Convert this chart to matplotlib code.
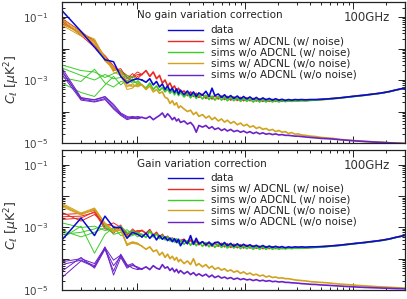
import matplotlib
matplotlib.use("Agg")
import matplotlib.pyplot as plt
from matplotlib.ticker import LogLocator, NullFormatter, FixedLocator, FixedFormatter

plt.rcParams['font.family'] = ['DejaVu Sans']
plt.rcParams['mathtext.fontset'] = 'dejavusans'

# ---------------- data ----------------
ell_low = [2, 3, 4, 5, 6, 7, 8, 9, 10]
ell_high = [11, 12, 13, 14, 15, 16, 17, 18, 19, 20, 21, 22, 23, 24, 25,
            27, 29, 31, 33, 35, 37, 40, 43, 46, 49, 52, 56, 60, 64, 68,
            73, 78, 84, 90, 96, 103, 110, 118, 126, 135, 145, 155, 166, 178, 190,
            204, 218, 234, 250, 268, 287, 307, 330, 360, 400, 450, 500, 570, 650, 740,
            850, 970, 1100, 1260, 1440, 1650, 1880, 2150, 2450, 2800, 3000]

series_labels = ["data", "sims w/ ADCNL (w/ noise)", "sims w/o ADCNL (w/ noise)",
                 "sims w/ ADCNL (w/o noise)", "sims w/o ADCNL (w/o noise)"]
panel_titles = ["No gain variation correction", "Gain variation correction"]
freq_label = "100GHz"

# ---- top panel (no gain variation correction) ----
top_blue_low = [1.6e-1, 3.5e-2, 1.1e-2, 4.4e-3, 3.8e-3, 1.3e-3, 8.0e-4, 1.0e-3, 1.1e-3]
top_red_low = [
    [9.0e-2, 3.5e-2, 1.6e-2, 5.5e-3, 2.4e-3, 2.0e-3, 1.4e-3, 1.2e-3, 1.5e-3],
    [7.0e-2, 3.0e-2, 1.3e-2, 4.8e-3, 2.0e-3, 2.3e-3, 1.1e-3, 1.6e-3, 1.1e-3],
    [8.0e-2, 2.6e-2, 1.1e-2, 6.0e-3, 2.8e-3, 1.7e-3, 9.0e-4, 1.3e-3, 1.8e-3],
    [6.0e-2, 3.2e-2, 1.8e-2, 4.2e-3, 2.2e-3, 1.9e-3, 1.2e-3, 9.0e-4, 1.3e-3]]
top_green_low = [
    [3.0e-3, 2.0e-3, 1.8e-3, 1.2e-3, 1.6e-3, 2.0e-3, 1.1e-3, 1.3e-3, 1.0e-3],
    [2.4e-3, 1.4e-3, 1.0e-3, 1.5e-3, 1.1e-3, 1.2e-3, 1.4e-3, 9.0e-4, 8.0e-4],
    [1.2e-3, 9.0e-4, 2.2e-3, 8.0e-4, 6.0e-4, 9.0e-4, 8.0e-4, 1.1e-3, 7.0e-4],
    [8.0e-4, 4.0e-4, 3.0e-4, 7.0e-4, 1.3e-3, 7.0e-4, 1.0e-3, 8.0e-4, 9.0e-4]]
top_gold_low = [
    [7.5e-2, 3.0e-2, 2.0e-2, 5.0e-3, 2.5e-3, 1.5e-3, 7.0e-4, 6.0e-4, 7.0e-4],
    [6.5e-2, 2.8e-2, 1.6e-2, 4.5e-3, 2.1e-3, 1.8e-3, 6.0e-4, 7.5e-4, 6.0e-4],
    [8.5e-2, 3.3e-2, 1.4e-2, 5.5e-3, 1.8e-3, 1.4e-3, 5.0e-4, 5.5e-4, 8.0e-4],
    [5.5e-2, 2.5e-2, 1.8e-2, 4.0e-3, 2.3e-3, 1.6e-3, 8.0e-4, 6.5e-4, 6.5e-4]]
top_purple_low = [
    [2.4e-3, 2.8e-4, 2.3e-4, 2.9e-4, 1.5e-4, 8.5e-5, 6.5e-5, 7.0e-5, 6.5e-5],
    [2.0e-3, 2.5e-4, 2.1e-4, 2.6e-4, 1.3e-4, 8.0e-5, 6.0e-5, 6.5e-5, 6.0e-5],
    [1.8e-3, 2.6e-4, 2.4e-4, 3.0e-4, 1.7e-4, 9.0e-5, 7.0e-5, 6.0e-5, 7.0e-5],
    [1.5e-3, 2.3e-4, 2.0e-4, 2.4e-4, 1.2e-4, 7.5e-5, 5.5e-5, 6.2e-5, 5.8e-5]]

top_blue_high = [1.0e-3, 8.5e-4, 1.1e-3, 7.0e-4, 9.0e-4, 6.0e-4, 7.5e-4, 5.0e-4, 6.5e-4, 4.5e-4,
                 5.5e-4, 4.0e-4, 5.2e-4, 3.6e-4, 4.8e-4,
                 3.4e-4, 4.5e-4, 3.2e-4, 4.2e-4, 3.0e-4, 3.9e-4,
                 3.3e-4, 4.4e-4, 3.0e-4, 5.5e-4, 3.2e-4,
                 3.6e-4, 2.8e-4, 3.4e-4, 2.7e-4,
                 3.2e-4, 2.6e-4, 3.1e-4, 2.5e-4, 3.0e-4,
                 2.5e-4, 2.9e-4, 2.4e-4, 2.8e-4, 2.35e-4,
                 2.7e-4, 2.35e-4, 2.6e-4, 2.3e-4, 2.55e-4,
                 2.3e-4, 2.45e-4, 2.25e-4, 2.4e-4, 2.3e-4,
                 2.4e-4, 2.35e-4, 2.4e-4, 2.35e-4, 2.4e-4,
                 2.4e-4, 2.45e-4, 2.5e-4, 2.6e-4, 2.7e-4,
                 2.85e-4, 3.0e-4, 3.15e-4, 3.3e-4, 3.5e-4,
                 3.7e-4, 3.95e-4, 4.3e-4, 4.8e-4, 5.3e-4, 5.6e-4]
top_red_high = [1.5e-3, 2.0e-3, 1.3e-3, 1.8e-3, 1.1e-3, 1.4e-3, 8.0e-4, 1.0e-3, 6.5e-4, 8.0e-4,
                5.5e-4, 6.5e-4, 4.5e-4, 5.5e-4, 4.0e-4,
                4.5e-4, 3.2e-4, 4.2e-4, 3.0e-4, 3.8e-4, 2.8e-4,
                3.5e-4, 2.6e-4, 3.3e-4, 2.5e-4, 3.2e-4,
                2.5e-4, 3.1e-4, 2.4e-4, 3.0e-4,
                2.3e-4, 2.9e-4, 2.25e-4, 2.8e-4, 2.2e-4,
                2.7e-4, 2.2e-4, 2.6e-4, 2.15e-4, 2.5e-4,
                2.1e-4, 2.45e-4, 2.1e-4, 2.4e-4, 2.1e-4,
                2.3e-4, 2.1e-4, 2.25e-4, 2.15e-4, 2.2e-4,
                2.2e-4, 2.2e-4, 2.25e-4, 2.2e-4, 2.3e-4,
                2.35e-4, 2.4e-4, 2.5e-4, 2.6e-4, 2.7e-4,
                2.85e-4, 3.0e-4, 3.15e-4, 3.3e-4, 3.5e-4,
                3.7e-4, 3.95e-4, 4.3e-4, 4.8e-4, 5.3e-4, 5.6e-4]
top_green_high = [7.0e-4, 5.5e-4, 8.0e-4, 5.0e-4, 6.5e-4, 4.6e-4, 5.8e-4, 4.2e-4, 5.2e-4, 3.8e-4,
                  4.6e-4, 3.4e-4, 4.4e-4, 3.2e-4, 4.0e-4,
                  2.9e-4, 3.8e-4, 2.7e-4, 3.6e-4, 2.6e-4, 3.4e-4,
                  2.5e-4, 3.3e-4, 2.4e-4, 3.1e-4, 2.3e-4,
                  3.0e-4, 2.3e-4, 2.9e-4, 2.2e-4,
                  2.8e-4, 2.2e-4, 2.7e-4, 2.1e-4, 2.6e-4,
                  2.1e-4, 2.5e-4, 2.0e-4, 2.45e-4, 2.0e-4,
                  2.4e-4, 2.0e-4, 2.35e-4, 2.0e-4, 2.3e-4,
                  2.0e-4, 2.25e-4, 2.05e-4, 2.2e-4, 2.1e-4,
                  2.2e-4, 2.15e-4, 2.2e-4, 2.2e-4, 2.25e-4,
                  2.3e-4, 2.35e-4, 2.45e-4, 2.55e-4, 2.65e-4,
                  2.8e-4, 2.95e-4, 3.1e-4, 3.25e-4, 3.45e-4,
                  3.65e-4, 3.9e-4, 4.25e-4, 4.75e-4, 5.25e-4, 5.55e-4]
top_gold_high = [7.0e-4, 5.0e-4, 6.5e-4, 4.2e-4, 5.0e-4, 3.8e-4, 4.2e-4, 2.8e-4, 2.6e-4, 1.8e-4,
                 2.2e-4, 1.6e-4, 1.9e-4, 1.3e-4, 1.5e-4,
                 1.2e-4, 1.0e-4, 1.1e-4, 8.0e-5, 9.5e-5, 7.0e-5,
                 8.0e-5, 6.2e-5, 7.2e-5, 5.5e-5, 6.5e-5,
                 5.0e-5, 5.8e-5, 4.6e-5, 5.3e-5,
                 4.2e-5, 4.8e-5, 3.8e-5, 4.3e-5, 3.5e-5,
                 3.9e-5, 3.2e-5, 3.5e-5, 2.9e-5, 3.2e-5,
                 2.7e-5, 2.9e-5, 2.5e-5, 2.7e-5, 2.3e-5,
                 2.5e-5, 2.2e-5, 2.3e-5, 2.0e-5, 2.15e-5,
                 1.9e-5, 1.95e-5, 1.8e-5, 1.75e-5, 1.65e-5,
                 1.6e-5, 1.5e-5, 1.45e-5, 1.4e-5, 1.3e-5,
                 1.25e-5, 1.2e-5, 1.17e-5, 1.13e-5, 1.1e-5,
                 1.07e-5, 1.05e-5, 1.02e-5, 1.0e-5, 0.98e-5, 0.97e-5]
top_purple_high = [6.5e-5, 6.0e-5, 7.0e-5, 5.5e-5, 6.5e-5, 7.5e-5, 9.0e-5, 6.5e-5, 8.5e-5, 7.0e-5,
                   5.5e-5, 6.5e-5, 5.0e-5, 5.8e-5, 4.5e-5,
                   5.0e-5, 4.0e-5, 4.5e-5, 3.5e-5, 2.2e-5, 3.6e-5,
                   3.2e-5, 3.6e-5, 2.9e-5, 3.3e-5, 2.7e-5,
                   3.0e-5, 2.5e-5, 2.8e-5, 2.4e-5,
                   2.7e-5, 2.3e-5, 2.5e-5, 2.2e-5, 2.4e-5,
                   2.1e-5, 2.3e-5, 2.0e-5, 2.2e-5, 1.95e-5,
                   2.1e-5, 1.9e-5, 2.0e-5, 1.85e-5, 1.95e-5,
                   1.8e-5, 1.85e-5, 1.75e-5, 1.75e-5, 1.7e-5,
                   1.65e-5, 1.65e-5, 1.6e-5, 1.55e-5, 1.5e-5,
                   1.45e-5, 1.4e-5, 1.37e-5, 1.33e-5, 1.28e-5,
                   1.23e-5, 1.19e-5, 1.15e-5, 1.12e-5, 1.09e-5,
                   1.06e-5, 1.04e-5, 1.01e-5, 0.99e-5, 0.97e-5, 0.96e-5]

# ---- bottom panel (gain variation correction) ----
bot_blue_low = [4.0e-4, 2.0e-3, 5.5e-4, 2.3e-3, 1.0e-3, 1.0e-3, 4.5e-4, 7.0e-4, 6.0e-4]
bot_red_low = [
    [2.6e-3, 2.8e-3, 3.5e-3, 1.1e-3, 1.4e-3, 1.0e-3, 6.0e-4, 8.0e-4, 7.0e-4],
    [2.2e-3, 2.3e-3, 3.0e-3, 9.0e-4, 8.0e-4, 1.2e-3, 5.0e-4, 7.0e-4, 8.0e-4],
    [3.0e-3, 1.6e-3, 2.6e-3, 1.3e-3, 1.1e-3, 8.5e-4, 5.5e-4, 9.0e-4, 6.5e-4],
    [1.8e-3, 2.0e-3, 3.2e-3, 1.0e-3, 6.5e-4, 1.1e-3, 6.5e-4, 6.0e-4, 7.5e-4]]
bot_green_low = [
    [1.4e-3, 1.0e-3, 1.1e-3, 8.0e-4, 9.0e-4, 1.1e-3, 7.0e-4, 8.0e-4, 6.0e-4],
    [6.0e-4, 7.0e-4, 9.0e-4, 1.2e-3, 6.0e-4, 7.0e-4, 8.5e-4, 6.0e-4, 7.0e-4],
    [4.5e-4, 1.1e-3, 1.5e-4, 6.0e-4, 1.0e-3, 5.5e-4, 6.5e-4, 7.0e-4, 5.0e-4],
    [8.0e-4, 5.0e-4, 7.0e-4, 1.0e-3, 7.5e-4, 9.0e-4, 5.0e-4, 5.5e-4, 6.5e-4]]
bot_gold_low = [
    [5.9e-3, 2.9e-3, 4.2e-3, 1.4e-3, 8.0e-4, 8.5e-4, 3.0e-4, 3.5e-4, 3.2e-4],
    [5.4e-3, 2.7e-3, 3.9e-3, 1.3e-3, 7.5e-4, 8.0e-4, 2.7e-4, 3.3e-4, 3.0e-4],
    [5.0e-3, 2.6e-3, 3.7e-3, 1.25e-3, 7.8e-4, 9.0e-4, 2.8e-4, 3.1e-4, 2.9e-4],
    [4.6e-3, 2.5e-3, 4.0e-3, 1.35e-3, 7.2e-4, 8.2e-4, 2.6e-4, 3.4e-4, 3.1e-4]]
bot_purple_low = [
    [8.0e-5, 1.0e-4, 7.0e-5, 2.3e-4, 9.0e-5, 1.3e-4, 6.0e-5, 7.0e-5, 5.0e-5],
    [6.5e-5, 9.0e-5, 6.0e-5, 2.1e-4, 6.0e-5, 1.2e-4, 5.5e-5, 6.0e-5, 5.5e-5],
    [4.0e-5, 1.1e-4, 5.0e-5, 2.0e-4, 4.0e-5, 1.4e-4, 6.5e-5, 5.0e-5, 4.5e-5],
    [2.5e-5, 8.5e-5, 5.5e-5, 2.4e-4, 3.0e-5, 1.1e-4, 5.0e-5, 6.5e-5, 5.0e-5]]

bot_blue_high = [5.0e-4, 6.5e-4, 4.5e-4, 6.0e-4, 4.0e-4, 5.5e-4, 4.2e-4, 5.0e-4, 3.8e-4, 4.6e-4,
                 3.5e-4, 4.4e-4, 3.3e-4, 4.2e-4, 2.6e-4,
                 4.0e-4, 3.0e-4, 5.5e-4, 2.9e-4, 4.5e-4, 3.0e-4,
                 3.5e-4, 2.8e-4, 3.4e-4, 2.7e-4, 3.3e-4,
                 3.4e-4, 2.7e-4, 3.3e-4, 2.6e-4,
                 3.1e-4, 2.5e-4, 3.0e-4, 2.5e-4, 2.9e-4,
                 2.5e-4, 2.8e-4, 2.4e-4, 2.7e-4, 2.35e-4,
                 2.65e-4, 2.3e-4, 2.55e-4, 2.3e-4, 2.5e-4,
                 2.3e-4, 2.45e-4, 2.25e-4, 2.4e-4, 2.3e-4,
                 2.4e-4, 2.35e-4, 2.4e-4, 2.35e-4, 2.4e-4,
                 2.4e-4, 2.45e-4, 2.5e-4, 2.6e-4, 2.7e-4,
                 2.85e-4, 3.0e-4, 3.15e-4, 3.3e-4, 3.5e-4,
                 3.7e-4, 3.95e-4, 4.3e-4, 4.8e-4, 5.3e-4, 5.6e-4]
bot_red_high = [8.0e-4, 6.5e-4, 8.5e-4, 5.5e-4, 7.0e-4, 5.0e-4, 6.0e-4, 4.5e-4, 5.2e-4, 4.0e-4,
                4.6e-4, 3.6e-4, 4.2e-4, 3.3e-4, 3.8e-4,
                4.2e-4, 3.1e-4, 4.0e-4, 2.9e-4, 3.7e-4, 2.8e-4,
                3.5e-4, 2.6e-4, 3.3e-4, 2.5e-4, 3.2e-4,
                2.5e-4, 3.1e-4, 2.4e-4, 3.0e-4,
                2.3e-4, 2.9e-4, 2.25e-4, 2.8e-4, 2.2e-4,
                2.7e-4, 2.2e-4, 2.6e-4, 2.15e-4, 2.5e-4,
                2.1e-4, 2.45e-4, 2.1e-4, 2.4e-4, 2.1e-4,
                2.3e-4, 2.1e-4, 2.25e-4, 2.15e-4, 2.2e-4,
                2.2e-4, 2.2e-4, 2.25e-4, 2.2e-4, 2.3e-4,
                2.35e-4, 2.4e-4, 2.5e-4, 2.6e-4, 2.7e-4,
                2.85e-4, 3.0e-4, 3.15e-4, 3.3e-4, 3.5e-4,
                3.7e-4, 3.95e-4, 4.3e-4, 4.8e-4, 5.3e-4, 5.6e-4]
bot_green_high = [6.0e-4, 4.8e-4, 7.7e-4, 5.0e-4, 6.2e-4, 4.4e-4, 5.6e-4, 4.0e-4, 5.0e-4, 3.7e-4,
                  4.5e-4, 3.4e-4, 4.3e-4, 3.1e-4, 3.9e-4,
                  2.9e-4, 3.8e-4, 2.7e-4, 3.6e-4, 2.6e-4, 3.4e-4,
                  2.5e-4, 3.3e-4, 2.4e-4, 3.1e-4, 2.3e-4,
                  3.0e-4, 2.3e-4, 2.9e-4, 2.2e-4,
                  2.8e-4, 2.2e-4, 2.7e-4, 2.1e-4, 2.6e-4,
                  2.1e-4, 2.5e-4, 2.0e-4, 2.45e-4, 2.0e-4,
                  2.4e-4, 2.0e-4, 2.35e-4, 2.0e-4, 2.3e-4,
                  2.0e-4, 2.25e-4, 2.05e-4, 2.2e-4, 2.1e-4,
                  2.2e-4, 2.15e-4, 2.2e-4, 2.2e-4, 2.25e-4,
                  2.3e-4, 2.35e-4, 2.45e-4, 2.55e-4, 2.65e-4,
                  2.8e-4, 2.95e-4, 3.1e-4, 3.25e-4, 3.45e-4,
                  3.65e-4, 3.9e-4, 4.25e-4, 4.75e-4, 5.25e-4, 5.55e-4]
bot_gold_high = [2.5e-4, 2.0e-4, 2.4e-4, 1.7e-4, 1.9e-4, 1.3e-4, 1.6e-4, 1.1e-4, 1.4e-4, 1.0e-4,
                 1.2e-4, 9.0e-5, 1.1e-4, 8.0e-5, 9.5e-5,
                 7.0e-5, 8.5e-5, 6.5e-5, 1.0e-4, 6.0e-5, 7.0e-5,
                 5.5e-5, 6.5e-5, 5.0e-5, 5.8e-5, 4.6e-5,
                 5.2e-5, 4.3e-5, 4.8e-5, 4.0e-5,
                 4.4e-5, 3.7e-5, 4.1e-5, 3.4e-5, 3.8e-5,
                 3.2e-5, 3.5e-5, 3.0e-5, 3.2e-5, 2.8e-5,
                 3.0e-5, 2.6e-5, 2.8e-5, 2.5e-5, 2.6e-5,
                 2.4e-5, 2.45e-5, 2.3e-5, 2.3e-5, 2.2e-5,
                 2.1e-5, 2.05e-5, 2.0e-5, 1.95e-5, 1.85e-5,
                 1.8e-5, 1.75e-5, 1.7e-5, 1.62e-5, 1.55e-5,
                 1.5e-5, 1.45e-5, 1.4e-5, 1.36e-5, 1.32e-5,
                 1.28e-5, 1.25e-5, 1.22e-5, 1.19e-5, 1.16e-5, 1.15e-5]
bot_purple_high = [4.7e-5, 5.5e-5, 4.5e-5, 6.0e-5, 5.0e-5, 4.6e-5, 6.5e-5, 5.0e-5, 5.5e-5, 4.2e-5,
                   5.0e-5, 3.8e-5, 4.6e-5, 3.5e-5, 4.2e-5,
                   3.3e-5, 3.9e-5, 3.1e-5, 3.6e-5, 2.9e-5, 3.3e-5,
                   2.8e-5, 3.2e-5, 2.6e-5, 3.0e-5, 2.5e-5,
                   2.8e-5, 2.4e-5, 2.6e-5, 2.3e-5,
                   2.5e-5, 2.2e-5, 2.4e-5, 2.15e-5, 2.3e-5,
                   2.1e-5, 2.2e-5, 2.0e-5, 2.15e-5, 1.95e-5,
                   2.05e-5, 1.9e-5, 2.0e-5, 1.85e-5, 1.9e-5,
                   1.8e-5, 1.85e-5, 1.75e-5, 1.75e-5, 1.7e-5,
                   1.68e-5, 1.65e-5, 1.6e-5, 1.57e-5, 1.52e-5,
                   1.5e-5, 1.45e-5, 1.42e-5, 1.38e-5, 1.34e-5,
                   1.3e-5, 1.27e-5, 1.24e-5, 1.21e-5, 1.19e-5,
                   1.17e-5, 1.15e-5, 1.13e-5, 1.11e-5, 1.1e-5, 1.09e-5]

# ---------------- style ----------------
C_BLUE = '#0a0ad2'
C_RED = '#e82a24'
C_GREEN = '#3ccc28'
C_GOLD = '#d2a21e'
C_PURPLE = '#6a22c8'
colors = [C_BLUE, C_RED, C_GREEN, C_GOLD, C_PURPLE]

W, H = 407, 299
fig = plt.figure(figsize=(W / 100, H / 100), dpi=100)
ax_top = fig.add_axes([62 / W, 1 - 143 / H, 343 / W, 141 / H])
ax_bot = fig.add_axes([62 / W, 1 - 290 / H, 343 / W, 140 / H])

FS = 7.5


def draw_panel(ax, blue_low, blue_high, sims, title, leg_y, title_y):
    # sims: list of (low realizations, high series, color) in drawing order
    for lows, high, col in sims:
        for r in lows:
            ax.plot(ell_low + [ell_high[0]], r + [high[0]], color=col, lw=0.7)
        ax.plot(ell_high, high, color=col, lw=1.2)
    ax.plot(ell_low + [ell_high[0]], blue_low + [blue_high[0]], color=C_BLUE, lw=1.1)
    ax.plot(ell_high, blue_high, color=C_BLUE, lw=1.2)

    ax.set_xscale('log')
    ax.set_yscale('log')
    ax.set_xlim(2, 3000)
    ax.set_ylim(1e-5, 0.3)

    ax.xaxis.set_major_locator(LogLocator(base=10, numticks=10))
    ax.xaxis.set_minor_locator(LogLocator(base=10, subs=range(2, 10), numticks=20))
    ax.xaxis.set_major_formatter(NullFormatter())
    ax.xaxis.set_minor_formatter(NullFormatter())
    ax.yaxis.set_major_locator(FixedLocator([1e-5, 1e-4, 1e-3, 1e-2, 1e-1]))
    ax.yaxis.set_major_formatter(FixedFormatter([r'$10^{-5}$', '', r'$10^{-3}$', '', r'$10^{-1}$']))
    ax.yaxis.set_minor_locator(LogLocator(base=10, subs=range(2, 10), numticks=20))
    ax.yaxis.set_minor_formatter(NullFormatter())
    ax.tick_params(which='both', direction='in', top=True, right=True, labelsize=7.5, pad=10,
                   width=0.7, colors='#222222', labelcolor='#444444')
    ax.tick_params(which='major', length=5)
    ax.tick_params(which='minor', length=2.5)
    for s in ax.spines.values():
        s.set_linewidth(0.9)
        s.set_color('#222222')

    ax.set_ylabel(r'$C_\ell\ [\mu{\rm K}^2]$', fontsize=9, color='#333333')

    ax.text(0.219, title_y, title, transform=ax.transAxes, fontsize=FS,
            ha='left', va='center', color='#222222')
    ax.text(0.957, title_y - 0.015, freq_label, transform=ax.transAxes, fontsize=8.5,
            ha='right', va='center', color='#333333')
    for i, (lab, col) in enumerate(zip(series_labels, colors)):
        y = leg_y[i]
        ax.plot([0.309, 0.411], [y, y], transform=ax.transAxes, color=col, lw=1.0)
        ax.text(0.434, y, lab, transform=ax.transAxes, fontsize=FS,
                ha='left', va='center', color='#222222')


draw_panel(ax_top, top_blue_low, top_blue_high,
           [(top_red_low, top_red_high, C_RED),
            (top_green_low, top_green_high, C_GREEN),
            (top_gold_low, top_gold_high, C_GOLD),
            (top_purple_low, top_purple_high, C_PURPLE)],
           panel_titles[0], [0.801, 0.723, 0.645, 0.567, 0.485], 0.905)
draw_panel(ax_bot, bot_blue_low, bot_blue_high,
           [(bot_red_low, bot_red_high, C_RED),
            (bot_green_low, bot_green_high, C_GREEN),
            (bot_gold_low, bot_gold_high, C_GOLD),
            (bot_purple_low, bot_purple_high, C_PURPLE)],
           panel_titles[1], [0.799, 0.722, 0.646, 0.569, 0.488], 0.903)

ax_top.yaxis.set_label_coords(-0.118, 0.45)
ax_bot.yaxis.set_label_coords(-0.118, 0.46)

fig.savefig('out.png', dpi=100)
